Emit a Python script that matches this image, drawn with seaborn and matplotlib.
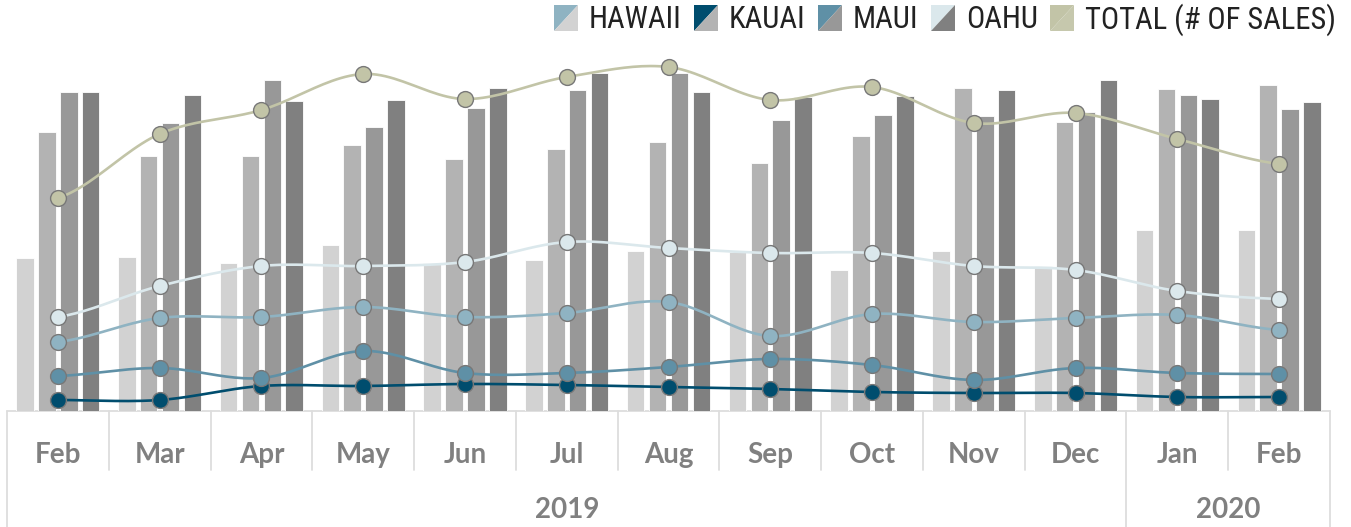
"""
plot.py - monthly median price (bars) and number of sales (lines) by island
"""

import numpy as np
import pandas as pd
import matplotlib
matplotlib.use("Agg")
import matplotlib.pyplot as plt
import matplotlib.transforms as mtransforms
from matplotlib.legend_handler import HandlerBase
from matplotlib.patches import Polygon
import seaborn as sns

# ---------------------------------------------------------------------------
# Data
# ---------------------------------------------------------------------------

MONTHS  = ["Feb", "Mar", "Apr", "May", "Jun", "Jul", "Aug",
           "Sep", "Oct", "Nov", "Dec", "Jan", "Feb"]
YEARS   = ["2019", "2020"]
YEAR_SPANS = [(0, 10), (11, 12)]          # first / last month index of each year
ISLANDS = ["HAWAII", "KAUAI", "MAUI", "OAHU"]

# bars: median price (relative units)
price_hawaii = [153, 154, 148, 166, 148, 151, 160, 159, 141, 160, 145, 181, 181]
price_kauai  = [279, 255, 255, 266, 252, 262, 269, 248, 275, 323, 289, 322, 326]
price_maui   = [319, 288, 331, 284, 303, 321, 338, 291, 296, 295, 299, 316, 302]
price_oahu   = [319, 316, 310, 311, 323, 338, 319, 314, 315, 321, 331, 312, 309]

# lines: number of sales
sales_hawaii = [69, 93, 94, 104, 94, 98, 109, 75, 97, 89, 93, 96, 81]
sales_kauai  = [11, 11, 25, 25, 27, 26, 24, 22, 19, 18, 18, 14, 14]
sales_maui   = [35, 43, 33, 60, 38, 38, 44, 52, 46, 31, 43, 38, 37]
sales_oahu   = [94, 125, 145, 145, 149, 169, 163, 158, 158, 145, 141, 120, 112]
sales_total  = [213, 277, 301, 337, 312, 334, 344, 311, 324, 288, 298, 272, 247]

BAR_COLORS = {"HAWAII": "#d2d2d2", "KAUAI": "#b3b3b3",
              "MAUI": "#989898", "OAHU": "#808080"}
LINE_COLORS = {"HAWAII": "#8fb3c2", "KAUAI": "#004d6e", "MAUI": "#5f90a6",
               "OAHU": "#dbe8ec", "TOTAL": "#c2c4a7"}

TICK_GREY = "#808080"
RULE_GREY = "#dddddd"


# ---------------------------------------------------------------------------
# Helpers
# ---------------------------------------------------------------------------

def smooth_curve(xs, ys, n=24, tension=0.5):
    """Cardinal spline through the points (display path only)."""
    xs = np.asarray(xs, float)
    ys = np.asarray(ys, float)
    m = np.empty_like(ys)
    m[1:-1] = tension * (ys[2:] - ys[:-2])
    m[0] = tension * (ys[1] - ys[0])
    m[-1] = tension * (ys[-1] - ys[-2])
    t = np.linspace(0, 1, n)
    h00 = 2 * t**3 - 3 * t**2 + 1
    h10 = t**3 - 2 * t**2 + t
    h01 = -2 * t**3 + 3 * t**2
    h11 = t**3 - t**2
    px, py = [], []
    for i in range(len(xs) - 1):
        px.append(xs[i] + t * (xs[i + 1] - xs[i]))
        py.append(h00 * ys[i] + h10 * m[i] + h01 * ys[i + 1] + h11 * m[i + 1])
    return np.concatenate(px), np.concatenate(py)


class SplitSwatch:
    def __init__(self, upper, lower):
        self.upper = upper
        self.lower = lower


class SplitSwatchHandler(HandlerBase):
    """Legend key cut along its diagonal: line colour / bar colour."""

    def create_artists(self, legend, orig_handle, xdescent, ydescent,
                       width, height, fontsize, trans):
        x0, y0 = -xdescent, -ydescent
        up = Polygon([[x0, y0], [x0, y0 + height], [x0 + width, y0 + height]],
                     closed=True, facecolor=orig_handle.upper,
                     edgecolor="none", transform=trans)
        lo = Polygon([[x0, y0], [x0 + width, y0], [x0 + width, y0 + height]],
                     closed=True, facecolor=orig_handle.lower,
                     edgecolor="none", transform=trans)
        return [up, lo]


# ---------------------------------------------------------------------------
# Figure
# ---------------------------------------------------------------------------

sns.set_theme(style="white")
W, H = 1351, 527
fig = plt.figure(figsize=(W / 100, H / 100), dpi=100)
ax = fig.add_axes([7 / W, 1 - 411 / H, 1323 / W, 361 / H])

x_idx = np.arange(len(MONTHS))

bars = pd.DataFrame({
    "x": np.tile(x_idx, len(ISLANDS)),
    "island": np.repeat(ISLANDS, len(MONTHS)),
    "price": np.concatenate([price_hawaii, price_kauai, price_maui, price_oahu]),
})
sns.barplot(data=bars, x="x", y="price", hue="island", hue_order=ISLANDS,
            palette=BAR_COLORS, native_scale=True, width=0.86, gap=0.2,
            edgecolor="white", linewidth=0.6, errorbar=None, legend=False,
            ax=ax, zorder=2)

sales = {
    "KAUAI": sales_kauai,
    "MAUI": sales_maui,
    "HAWAII": sales_hawaii,
    "OAHU": sales_oahu,
    "TOTAL": sales_total,
}
for i, (name, vals) in enumerate(sales.items()):
    sx, sy = smooth_curve(x_idx, vals)
    ax.plot(sx, sy, color=LINE_COLORS[name], lw=1.9, zorder=3 + 2 * i,
            solid_capstyle="round")
    sns.scatterplot(x=x_idx, y=vals, color=LINE_COLORS[name], s=130,
                    edgecolor="#787878", linewidth=1.0, zorder=4 + 2 * i,
                    ax=ax, legend=False)

ax.set_xlim(-0.5, len(MONTHS) - 0.5)
ax.set_ylim(0, 361)
ax.set_yticks([])
ax.set_ylabel("")
ax.set_xlabel("")
for side in ["top", "right", "left", "bottom"]:
    ax.spines[side].set_visible(False)

ax.set_xticks(x_idx)
ax.set_xticklabels(MONTHS, fontfamily="Lato", fontweight="bold",
                   fontsize=20, color=TICK_GREY)
ax.tick_params(axis="x", length=0, pad=22)

# ---- category frame under the plot ----------------------------------------
trans = mtransforms.blended_transform_factory(ax.transData, ax.transAxes)
month_row = -59 / 361
bottom = -116 / 361
ax.plot([-0.5, len(MONTHS) - 0.5], [0, 0], color=RULE_GREY, lw=1.3,
        transform=trans, clip_on=False, zorder=1)
year_edges = {YEAR_SPANS[0][0] - 0.5} | {hi + 0.5 for _, hi in YEAR_SPANS}
for k in range(len(MONTHS) + 1):
    xb = k - 0.5
    y_end = bottom if xb in year_edges else month_row
    ax.plot([xb, xb], [0, y_end], color=RULE_GREY, lw=1.3,
            transform=trans, clip_on=False, zorder=1)

for year, (lo, hi) in zip(YEARS, YEAR_SPANS):
    ax.text((lo + hi) / 2, -99 / 361, year, transform=trans, ha="center",
            va="center", fontfamily="Lato", fontweight="bold", fontsize=20,
            color=TICK_GREY)

# ---- legend ---------------------------------------------------------------
handles = [SplitSwatch(LINE_COLORS[k], BAR_COLORS[k]) for k in ISLANDS]
handles.append(SplitSwatch(LINE_COLORS["TOTAL"], "#c6c8ad"))
labels = ISLANDS + ["TOTAL (# OF SALES)"]
fig.legend(handles, labels, handler_map={SplitSwatch: SplitSwatchHandler()},
           loc="upper right", bbox_to_anchor=(1336 / W, 1 - 3 / H),
           bbox_transform=fig.transFigure, ncol=5, frameon=False,
           prop={"family": ["Roboto Condensed", "DejaVu Sans"],
                 "weight": "normal", "size": 22},
           labelcolor="#222222", handlelength=0.8, handleheight=0.92,
           handletextpad=0.35, columnspacing=0.4, borderpad=0,
           borderaxespad=0)

fig.savefig("out.png", dpi=100, facecolor="white")
